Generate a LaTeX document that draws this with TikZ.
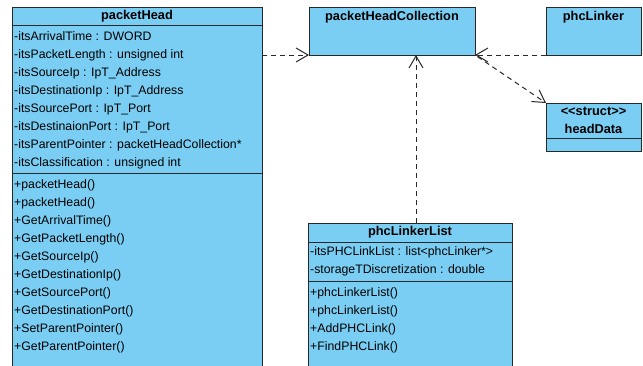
\documentclass[tikz,border=0pt]{standalone}
\usepackage{fontspec}
\setmainfont{Liberation Sans}
\usetikzlibrary{arrows.meta,positioning}
\definecolor{umlblue}{RGB}{122,206,244}
\definecolor{umledge}{RGB}{40,40,40}

\begin{document}
\begin{tikzpicture}[x=1pt, y=-1pt, >={Straight Barb[length=12pt,width=14pt]},
    box/.style={draw=umledge, fill=umlblue, line width=1pt, inner sep=0pt, outer sep=0pt, anchor=north west},
    head/.style={box, align=center, font=\bfseries\fontsize{12.8}{18}\selectfont},
    title/.style={inner sep=0pt, font=\bfseries\fontsize{12.8}{18}\selectfont},
    members/.style={anchor=north west, inner xsep=2pt, inner ysep=0pt, align=left, font=\fontsize{12.3}{18}\selectfont},
    dep/.style={->, draw=umledge, line width=1pt, dash pattern=on 5pt off 4pt}]
    \fill[white] (0,0) rectangle (643,365);
    \useasboundingbox (0,0) rectangle (643,365);
    \clip (0,0) rectangle (643,365);

    % packetHead
    \node[head, minimum width=250pt, minimum height=18pt] (pktHead) at (12,7) {packetHead};
    \node[box, minimum width=250pt, minimum height=148pt, below=0pt of pktHead] (pktAttrs) {};
    \node[box, minimum width=250pt, minimum height=200pt, below=0pt of pktAttrs] (pktOps) {};
    \node[members] (pktAttrText) at ([yshift=-6pt]pktAttrs.north west) {-itsArrivalTime : DWORD\\
      -itsPacketLength : unsigned int\\
      -itsSourceIp : IpT\_Address\\
      -itsDestinationIp : IpT\_Address\\
      -itsSourcePort : IpT\_Port\\
      -itsDestinaionPort : IpT\_Port\\
      -itsParentPointer : packetHeadCollection*\\
      -itsClassification : unsigned int};
    \node[members] (pktOpText) at ([yshift=-6pt]pktOps.north west) {+packetHead()\\
      +packetHead()\\
      +GetArrivalTime()\\
      +GetPacketLength()\\
      +GetSourceIp()\\
      +GetDestinationIp()\\
      +GetSourcePort()\\
      +GetDestinationPort()\\
      +SetParentPointer()\\
      +GetParentPointer()};

    % packetHeadCollection and phcLinker
    \node[box, minimum width=166pt, minimum height=48pt] (phc) at (309,7) {};
    \node[title] (phcName) at ([yshift=-10pt]phc.north) {packetHeadCollection};
    \node[box, minimum width=95pt, minimum height=48pt] (linker) at (546,7) {};
    \node[title] (linkerName) at ([yshift=-10pt]linker.north) {phcLinker};

    % headData
    \node[head, minimum width=95pt, minimum height=35pt] (hdHead) at (546,103) {<{}<struct>{}>\\headData};
    \node[box, minimum width=95pt, minimum height=13pt, below=0pt of hdHead] (hdBody) {};

    % phcLinkerList
    \node[head, minimum width=204pt, minimum height=19pt] (listHead) at (308,223) {phcLinkerList};
    \node[box, minimum width=204pt, minimum height=39pt, below=0pt of listHead] (listAttrs) {};
    \node[box, minimum width=204pt, minimum height=100pt, below=0pt of listAttrs] (listOps) {};
    \node[members] (listAttrText) at ([yshift=-4pt]listAttrs.north west) {-itsPHCLinkList : list<phcLinker*>\\
      -storageTDiscretization : double};
    \node[members] (listOpText) at ([yshift=-6pt]listOps.north west) {+phcLinkerList()\\
      +phcLinkerList()\\
      +AddPHCLink()\\
      +FindPHCLink()};

    \draw[dep] (pktAttrs.east |- phc.south west) -- (phc.south west);
    \draw[dep] (linker.south west) -- (phc.south east);
    \draw[dep, shorten <=3pt] (phc.south east) -- (hdHead.north west);
    \draw[dep] ([xshift=6pt]listHead.north) -- ([xshift=6pt]listHead.north |- phc.south);
  \end{tikzpicture}
\end{document}
